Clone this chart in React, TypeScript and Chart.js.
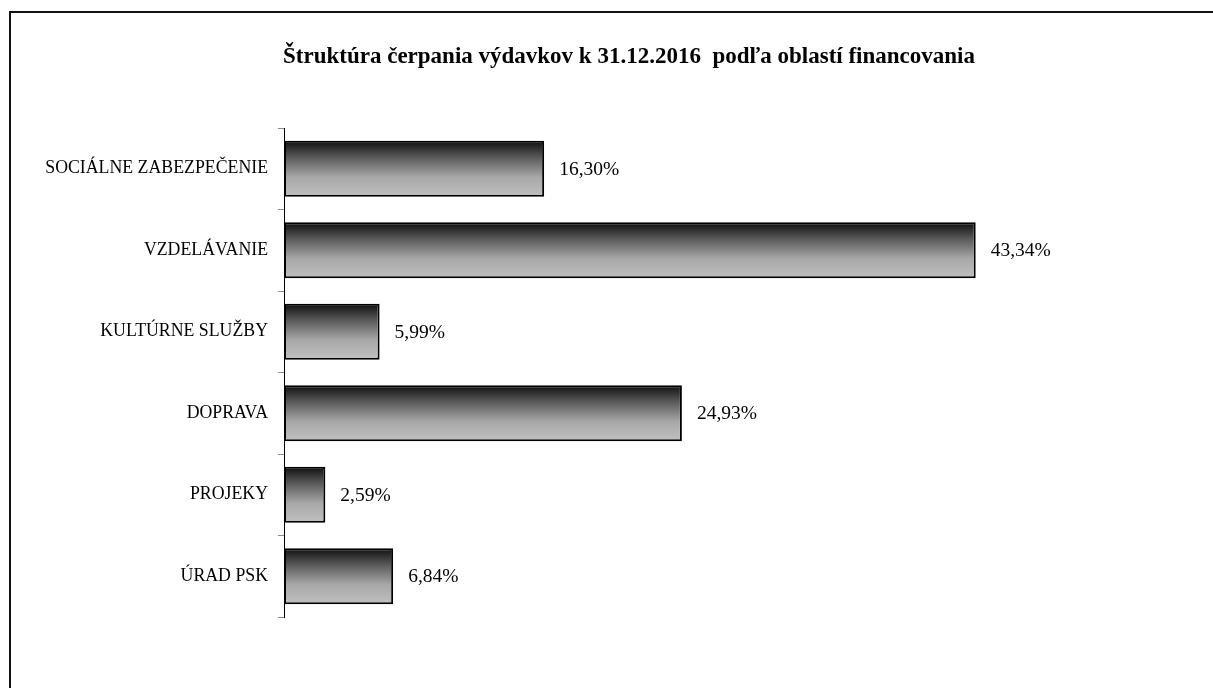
import React, { useEffect, useRef } from "react";
import { Chart, registerables } from "chart.js";

Chart.register(...registerables);

const categories: string[] = [
  "SOCIÁLNE ZABEZPEČENIE",
  "VZDELÁVANIE",
  "KULTÚRNE SLUŽBY",
  "DOPRAVA",
  "PROJEKY",
  "ÚRAD PSK",
];
const shares: number[] = [16.3, 43.34, 5.99, 24.93, 2.59, 6.84];
const titleText = "Štruktúra čerpania výdavkov k 31.12.2016  podľa oblastí financovania";

const SERIF = '"Liberation Serif", "Times New Roman", serif';
const BAR_PCT = 0.69;

const fmt = (v: number) => v.toFixed(2).replace(".", ",") + "%";

const titlePlugin = {
  id: "customTitle",
  afterDraw(chart: any) {
    const ctx = chart.ctx;
    ctx.save();
    ctx.font = `bold 23px ${SERIF}`;
    ctx.fillStyle = "#000";
    ctx.textAlign = "center";
    ctx.textBaseline = "alphabetic";
    ctx.fillText(titleText, 629, 63);
    ctx.restore();
  },
};

const valueLabelPlugin = {
  id: "valueLabels",
  afterDatasetsDraw(chart: any) {
    const ctx = chart.ctx;
    const meta = chart.getDatasetMeta(0);
    ctx.save();
    ctx.font = `19.5px ${SERIF}`;
    ctx.fillStyle = "#000";
    ctx.textAlign = "left";
    ctx.textBaseline = "middle";
    meta.data.forEach((bar: any, i: number) => {
      ctx.fillText(fmt(shares[i]), bar.x + 15, bar.y + 1);
    });
    ctx.restore();
  },
};

export default function App() {
  const canvasRef = useRef<HTMLCanvasElement | null>(null);

  useEffect(() => {
    if (!canvasRef.current) return;
    const chart = new Chart(canvasRef.current, {
      type: "bar",
      data: {
        labels: categories,
        datasets: [
          {
            data: shares,
            backgroundColor: (c: any) => {
              const ch = c.chart;
              const ys = ch.scales && ch.scales.y;
              if (!ys || c.dataIndex === undefined) return "#888";
              const center = ys.getPixelForValue(c.dataIndex);
              const step = Math.abs(ys.getPixelForValue(1) - ys.getPixelForValue(0));
              if (!isFinite(center) || !isFinite(step) || step === 0) return "#888";
              const half = (step * BAR_PCT) / 2;
              const g = ch.ctx.createLinearGradient(0, center - half, 0, center + half);
              g.addColorStop(0, "#0e0e0e");
              g.addColorStop(0.3, "#5a5a5a");
              g.addColorStop(0.65, "#a8a8a8");
              g.addColorStop(1, "#c0c0c0");
              return g;
            },
            borderColor: "#000",
            borderWidth: 2,
            borderSkipped: false,
            barPercentage: BAR_PCT,
            categoryPercentage: 1,
          },
        ],
      },
      options: {
        indexAxis: "y",
        responsive: false,
        animation: false,
        devicePixelRatio: 1,
        layout: { padding: { left: 0, right: 131, top: 128, bottom: 71 } },
        plugins: {
          legend: { display: false },
          title: { display: false },
          tooltip: { enabled: false },
        },
        scales: {
          x: {
            display: false,
            min: 0,
            max: 50,
          },
          y: {
            afterFit: (scale: any) => {
              scale.width = 284;
            },
            grid: {
              offset: true,
              drawOnChartArea: false,
              drawTicks: true,
              tickLength: 6,
              color: "#8c8c8c",
              lineWidth: 1,
            },
            border: { display: true, color: "#000", width: 1 },
            ticks: {
              color: "#000",
              padding: 10,
              font: { family: SERIF, size: 17.8 },
            },
          },
        },
      },
      plugins: [titlePlugin, valueLabelPlugin],
    } as any);
    chart.update();
    return () => chart.destroy();
  }, []);

  return (
    <div
      style={{
        position: "absolute",
        left: 0,
        top: 0,
        width: 1213,
        height: 688,
        overflow: "hidden",
        background: "#fff",
      }}
    >
      <div
        style={{
          position: "absolute",
          left: 9,
          top: 11,
          width: 1300,
          height: 800,
          border: "2px solid #111",
          boxSizing: "border-box",
        }}
      />
      <canvas
        ref={canvasRef}
        width={1213}
        height={688}
        style={{ position: "absolute", left: 0, top: 0, width: 1213, height: 688 }}
      />
    </div>
  );
}
